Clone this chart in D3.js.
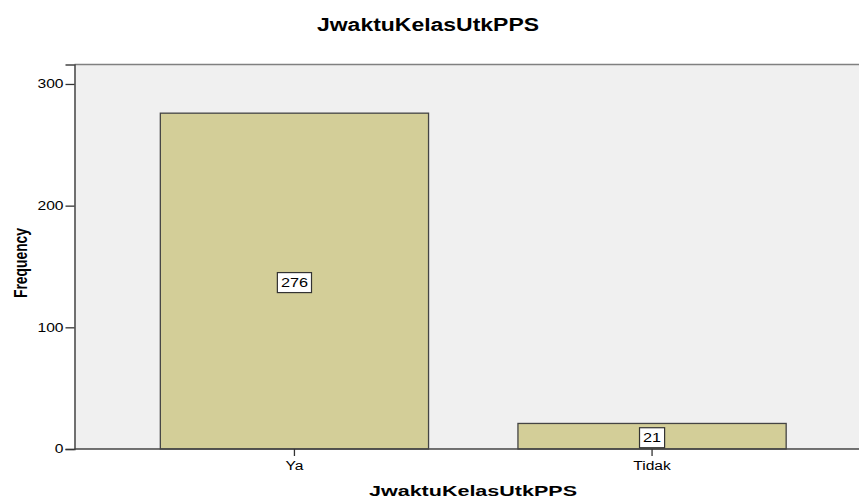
<!DOCTYPE html>
<html>
<head>
<meta charset="utf-8">
<script src="https://cdn.jsdelivr.net/npm/d3@7"></script>
<style>
  body { margin: 0; background: #fff; }
  text { font-family: "Liberation Sans", Arial, sans-serif; fill: #000; }
</style>
</head>
<body>
<script>
var width = 859
var height = 500
var margin = {top: 64.5, right: -13, bottom: 51, left: 74.5}; // plot runs past the right edge

var categories = ["Ya", "Tidak"]
var counts = [276, 21]
var yTicks = [0, 100, 200, 300]
var titleText = "JwaktuKelasUtkPPS"

var svg = d3.select("body").append("svg")
    .attr("width", width)
    .attr("height", height);

// the original picture is a bit stretched sideways, so widen text
function stretch(sel, k) {
  sel.each(function() {
    var w = this.getComputedTextLength();
    d3.select(this)
      .attr("textLength", w * k)
      .attr("lengthAdjust", "spacingAndGlyphs");
  });
}

var x = d3.scaleBand()
    .domain(categories)
    .range([margin.left, width - margin.right])
    .paddingInner(0.25)
    .paddingOuter(0.24);

var y = d3.scaleLinear()
    .domain([0, 316])
    .range([height - margin.bottom, margin.top]);

// plot background
svg.append("rect")
    .attr("x", margin.left)
    .attr("y", margin.top)
    .attr("width", width - margin.right - margin.left)
    .attr("height", y(0) - margin.top)
    .attr("fill", "#f0f0f0");

// top border
svg.append("line")
    .attr("x1", margin.left).attr("x2", width)
    .attr("y1", margin.top).attr("y2", margin.top)
    .attr("stroke", "#808080")
    .attr("stroke-width", 1.5);

// bars
svg.append("g")
    .selectAll("rect")
    .data(categories)
    .enter().append("rect")
    .attr("x", function(d) { return x(d); })
    .attr("y", function(d, i) { return y(counts[i]); })
    .attr("width", x.bandwidth())
    .attr("height", function(d, i) { return y(0) - y(counts[i]); })
    .attr("fill", "#d3ce98")
    .attr("stroke", "#444")
    .attr("stroke-width", 1.3);

// y axis
var yAxis = svg.append("g")
    .attr("transform", "translate(" + margin.left + ",0)")
    .call(d3.axisLeft(y).tickValues(yTicks).tickSize(9).tickPadding(2));
yAxis.select(".domain").attr("stroke", "#444").attr("stroke-width", 1.5);
yAxis.selectAll(".tick line").attr("stroke", "#333").attr("stroke-width", 1.3);
yAxis.selectAll("text").style("font-size", "12px").attr("fill", "#111");
stretch(yAxis.selectAll("text"), 1.3);

// x axis
var xAxis = svg.append("g")
    .attr("transform", "translate(0," + y(0) + ")")
    .call(d3.axisBottom(x).tickSize(7).tickPadding(5));
xAxis.select(".domain").attr("stroke", "#444").attr("stroke-width", 1.5)
    .attr("d", "M" + margin.left + ",0H" + width);
xAxis.selectAll(".tick line").attr("stroke", "#333").attr("stroke-width", 1.3);
xAxis.selectAll("text").style("font-size", "12px").attr("fill", "#111");
stretch(xAxis.selectAll("text"), 1.3);

// value labels
var labels = svg.append("g")
    .selectAll("g")
    .data(categories)
    .enter().append("g")
    .attr("transform", function(d, i) {
      return "translate(" + (x(d) + x.bandwidth() / 2) + "," + ((y(counts[i]) + y(0)) / 2 + 1.5) + ")";
    });

labels.append("text")
    .attr("text-anchor", "middle")
    .attr("dy", "0.36em")
    .style("font-size", "13px")
    .text(function(d, i) { return counts[i]; })
    .call(stretch, 1.25)
    .each(function() {
      var w = +d3.select(this).attr("textLength");
      d3.select(this.parentNode).insert("rect", "text")
        .attr("x", -w / 2 - 3.5)
        .attr("y", -10)
        .attr("width", w + 7)
        .attr("height", 20)
        .attr("fill", "#fff")
        .attr("stroke", "#333")
        .attr("stroke-width", 1.2);
    });

// titles
svg.append("text")
    .attr("x", 428)
    .attr("y", 31)
    .attr("text-anchor", "middle")
    .style("font-size", "18px")
    .style("font-weight", "bold")
    .attr("textLength", 222)
    .attr("lengthAdjust", "spacingAndGlyphs")
    .text(titleText);

svg.append("text")
    .attr("x", 473)
    .attr("y", 495.5)
    .attr("text-anchor", "middle")
    .style("font-size", "14px")
    .style("font-weight", "bold")
    .attr("textLength", 208)
    .attr("lengthAdjust", "spacingAndGlyphs")
    .text(titleText);

svg.append("text")
    .attr("transform", "translate(27,263) rotate(-90)")
    .attr("text-anchor", "middle")
    .style("font-size", "18px")
    .style("font-weight", "bold")
    .attr("textLength", 70)
    .attr("lengthAdjust", "spacingAndGlyphs")
    .text("Frequency");
</script>
</body>
</html>
